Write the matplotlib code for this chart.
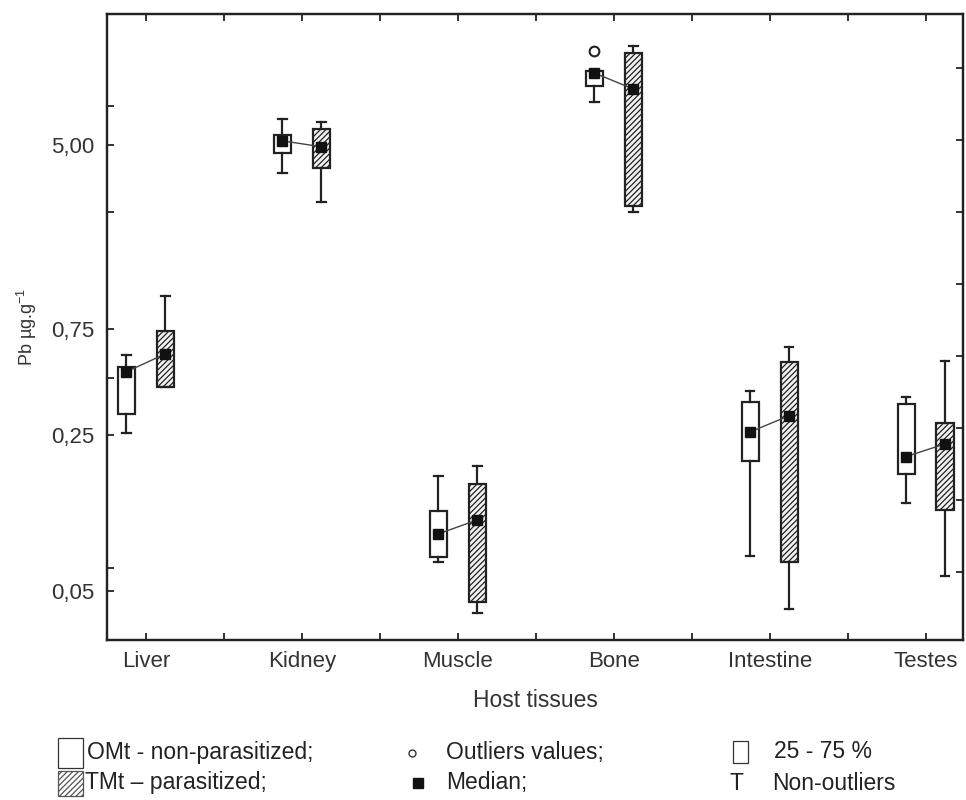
import numpy as np
import matplotlib
matplotlib.use("Agg")
import matplotlib.pyplot as plt
from matplotlib.patches import Rectangle
from matplotlib.lines import Line2D
from matplotlib.ticker import FixedLocator, NullFormatter

plt.rcParams['font.family'] = ['Liberation Sans', 'DejaVu Sans']
plt.rcParams['hatch.color'] = '#555555'
plt.rcParams['hatch.linewidth'] = 0.9

tissues = ['Liver', 'Kidney', 'Muscle', 'Bone', 'Intestine', 'Testes']

# OMt - non-parasitized (Pb ug/g)
omt_whislo = [0.256, 3.74, 0.0675, 7.8, 0.0718, 0.124]
omt_q1 = [0.311, 4.6, 0.071, 9.2, 0.191, 0.167]
omt_med = [0.48, 5.21, 0.090, 10.5, 0.258, 0.200]
omt_q3 = [0.505, 5.54, 0.114, 10.7, 0.352, 0.345]
omt_whishi = [0.571, 6.54, 0.164, 10.8, 0.394, 0.371]
omt_outliers = [[], [], [], [13.2], [], []]

# TMt - parasitized
tmt_whislo = [0.41, 2.78, 0.0398, 2.5, 0.0415, 0.0584]
tmt_q1 = [0.411, 3.94, 0.0446, 2.66, 0.0675, 0.115]
tmt_med = [0.578, 4.9, 0.104, 8.9, 0.305, 0.228]
tmt_q3 = [0.733, 5.9, 0.151, 12.9, 0.532, 0.283]
tmt_whishi = [1.05, 6.34, 0.182, 13.9, 0.621, 0.537]
tmt_outliers = [[], [], [], [], [], []]

ytick_vals = [0.05, 0.25, 0.75, 5.0]
ytick_labels = ['0,05', '0,25', '0,75', '5,00']
yminor_vals = [0.063, 0.45, 2.5, 7.5]
yright_vals = [0.061, 0.128, 0.269, 0.566, 1.19, 2.5, 5.26, 11.1]


def make_stats(lo, q1, med, q3, hi, fl):
    return [dict(whislo=a, q1=b, med=c, q3=d, whishi=e, fliers=f)
            for a, b, c, d, e, f in zip(lo, q1, med, q3, hi, fl)]


fig = plt.figure(figsize=(9.66, 8), dpi=100)
ax = fig.add_axes([107 / 966, 1 - 640 / 800, (963 - 107) / 966, (640 - 14) / 800])

x = np.arange(len(tissues))
off = 0.125
w = 0.11

common = dict(widths=w, patch_artist=True, showfliers=True, capwidths=0.055,
              boxprops=dict(linewidth=1.6, edgecolor='#222222'),
              whiskerprops=dict(linewidth=1.6, color='#222222'),
              capprops=dict(linewidth=1.6, color='#222222'),
              medianprops=dict(linewidth=0),
              flierprops=dict(marker='o', markersize=7, markerfacecolor='none',
                              markeredgecolor='#222222', markeredgewidth=1.5))

b1 = ax.bxp(make_stats(omt_whislo, omt_q1, omt_med, omt_q3, omt_whishi, omt_outliers),
            positions=x - off, **common)
b2 = ax.bxp(make_stats(tmt_whislo, tmt_q1, tmt_med, tmt_q3, tmt_whishi, tmt_outliers),
            positions=x + off, **common)
for p in b1['boxes']:
    p.set_facecolor('white')
for p in b2['boxes']:
    p.set_facecolor('#f2f2f2')
    p.set_hatch('//////')

# medians joined by a line
for i in range(len(tissues)):
    ax.plot([x[i] - off, x[i] + off], [omt_med[i], tmt_med[i]],
            color='#444444', lw=1, zorder=4)
ax.plot(x - off, omt_med, 's', color='#111111', markersize=7, zorder=5)
ax.plot(x + off, tmt_med, 's', color='#111111', markersize=7, zorder=5)

ax.set_yscale('log')
ax.set_ylim(0.0301, 19.3)
ax.set_xlim(-0.25, 5.24)
ax.yaxis.set_major_locator(FixedLocator(ytick_vals))
ax.set_yticklabels(ytick_labels)
ax.yaxis.set_minor_locator(FixedLocator(yminor_vals))
ax.yaxis.set_minor_formatter(NullFormatter())
ax.set_xticks(x)
ax.set_xticklabels(tissues)
ax.xaxis.set_minor_locator(FixedLocator(x[:-1] + 0.5))

ax.tick_params(which='both', direction='in', length=5, width=1.3, top=True,
               right=False, colors='#222222', labelcolor='#333333', labelsize=16)
ax.tick_params(axis='x', pad=8)
ax.tick_params(axis='y', pad=9)

ax2 = ax.twinx()
ax2.set_yscale('log')
ax2.set_ylim(ax.get_ylim())
ax2.yaxis.set_major_locator(FixedLocator(yright_vals))
ax2.yaxis.set_minor_locator(FixedLocator([]))
ax2.yaxis.set_major_formatter(NullFormatter())
ax2.tick_params(direction='in', length=5, width=1.3, colors='#222222')

for a in (ax, ax2):
    for s in a.spines.values():
        s.set_linewidth(1.6)
        s.set_color('#222222')

ax.set_xlabel('Host tissues', fontsize=16.5, color='#333333', labelpad=12)
ax.set_ylabel(r'Pb µg.g$^{\mathregular{-1}}$', fontsize=13, color='#333333', labelpad=9)

# legend below the chart
def fx(px):
    return px / 966


def fy(py):
    return 1 - py / 800


fig.add_artist(Rectangle((fx(58), fy(768)), fx(25), 30 / 800, transform=fig.transFigure,
                         facecolor='white', edgecolor='#333333', lw=0.9))
fig.add_artist(Rectangle((fx(58), fy(796)), fx(25), 25 / 800, transform=fig.transFigure,
                         facecolor='white', edgecolor='#555555', lw=0.9, hatch='//////'))
fig.add_artist(Rectangle((fx(733), fy(763)), fx(15), 22 / 800, transform=fig.transFigure,
                         facecolor='white', edgecolor='#333333', lw=0.9))
fig.add_artist(Line2D([fx(412)], [fy(753)], transform=fig.transFigure, marker='o',
                      markersize=5, markerfacecolor='none', markeredgecolor='#333333'))
fig.add_artist(Line2D([fx(418)], [fy(783)], transform=fig.transFigure, marker='s',
                      markersize=7, color='#111111'))

lt = dict(fontsize=16.5, color='#222222', va='center', ha='left')
fig.text(fx(87), fy(752), 'OMt - non-parasitized;', **lt)
fig.text(fx(85), fy(783), 'TMt \u2013 parasitized;', **lt)
fig.text(fx(446), fy(752), 'Outliers values;', **lt)
fig.text(fx(446), fy(783), 'Median;', **lt)
fig.text(fx(774), fy(752), '25 - 75 %', **lt)
fig.text(fx(730), fy(783), 'T', **lt)
fig.text(fx(772), fy(783), 'Non-outliers', **lt)

fig.savefig('out.png', dpi=100, facecolor='white')
